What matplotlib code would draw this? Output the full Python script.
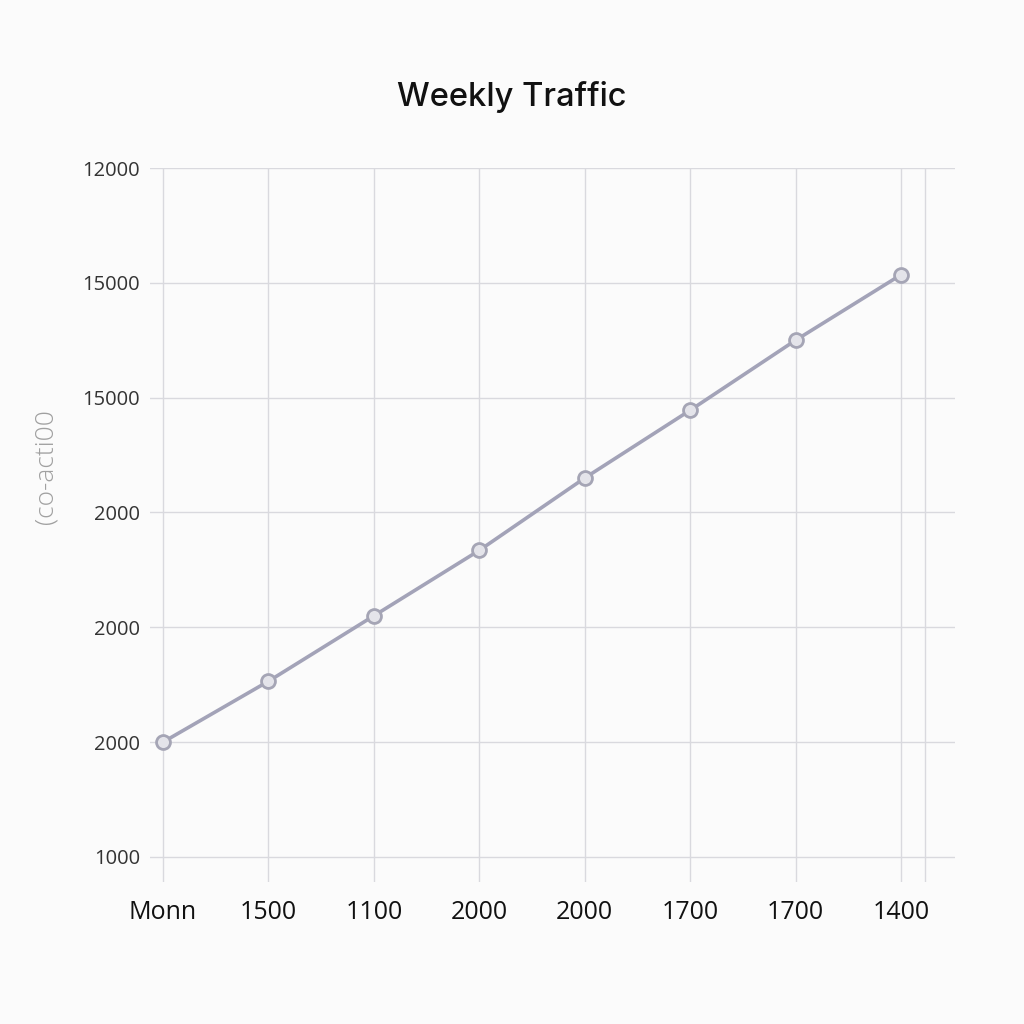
import matplotlib
matplotlib.use("Agg")
import matplotlib.pyplot as plt

# Data (underlying numeric scale; tick labels as printed in the reference)
x_labels = ["Monn", "1500", "1100", "2000", "2000", "1700", "1700", "1400"]
values = [2000, 2530, 3100, 3670, 4300, 4890, 5500, 6070]
y_ticks = [1000, 2000, 3000, 4000, 5000, 6000, 7000]
y_tick_labels = ["1000", "2000", "2000", "2000", "15000", "15000", "12000"]
title = "Weekly Traffic"
y_label = "(co-acti00"

plt.rcParams['font.family'] = ['Open Sans', 'DejaVu Sans']

fig = plt.figure(figsize=(10.24, 10.24), dpi=100)
fig.patch.set_facecolor("#fbfbfb")
ax = fig.add_axes([150/1024, 142/1024, 805/1024, 714/1024])
ax.set_facecolor("#fbfbfb")

xs = list(range(len(values)))
ax.plot(xs, values, color="#a3a3b8", linewidth=2.6, zorder=3,
        marker="o", markersize=10, markerfacecolor="#e4e4ea",
        markeredgecolor="#a5a5b5", markeredgewidth=2)

ax.set_xlim(-0.123, 7.512)
ax.set_ylim(782, 7000)
ax.set_xticks(xs)
ax.set_xticklabels(x_labels, fontsize=18, color="#111111")
ax.set_yticks(y_ticks)
ax.set_yticklabels(y_tick_labels, fontsize=14.5, color="#333333")
ax.tick_params(axis="both", length=0)
ax.tick_params(axis="x", pad=13)
ax.tick_params(axis="y", pad=7)

ax.grid(True, color="#d9d9de", linewidth=1.0, zorder=0)
ax.axvline(7.23, color="#d9d9de", linewidth=1.0, zorder=0)
for s in ax.spines.values():
    s.set_visible(False)

fig.text(512/1024, 1 - 97/1024, title, ha="center", va="center",
         fontsize=23.5, fontfamily=["Inter", "DejaVu Sans"], fontweight="medium",
         color="#111111")
fig.text(46/1024, 1 - 467/1024, y_label, ha="center", va="center",
         rotation=90, fontsize=19, color="#a0a0a0", fontweight="light")

fig.savefig("out.png", dpi=100, facecolor=fig.get_facecolor())
